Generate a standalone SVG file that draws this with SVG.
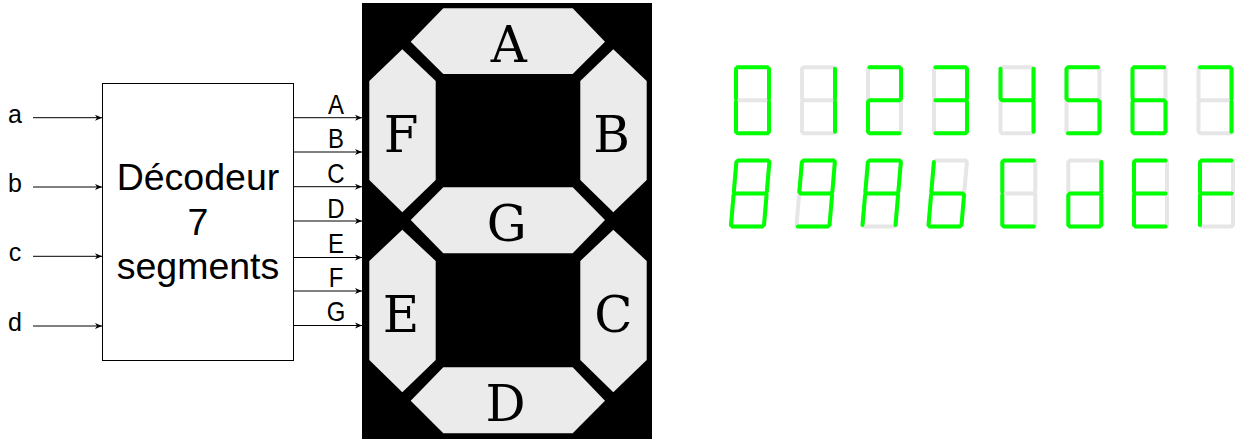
<svg xmlns="http://www.w3.org/2000/svg" width="1237" height="439" viewBox="0 0 1237 439">
<style>
.sans{font-family:"Liberation Sans",Arial,sans-serif;fill:#000}
.in{font-size:25px;text-anchor:middle}
.dec{font-size:37.5px;text-anchor:middle}
.out{font-size:27.5px;text-anchor:middle}
.seg{fill:#ebebeb}
.cap{font-family:"DejaVu Serif",serif;font-size:50px;text-anchor:middle;fill:#000}
.wire{stroke:#000;stroke-width:1;fill:none;marker-end:url(#arrow)}
.digit{fill:none;stroke:#e6e6e6;stroke-width:4;stroke-linecap:round}
.on{stroke:#00ff00}
</style>
<defs>
<marker id="arrow" markerUnits="userSpaceOnUse" markerWidth="8" markerHeight="8" refX="7" refY="4" orient="auto"><path d="M0 1L7 4L0 7L2 4z" fill="#000"/></marker>
<line id="a" x1="1.5" y1="0" x2="31.5" y2="0"/>
<line id="b" x1="33" y1="1.5" x2="33" y2="31.5"/>
<line id="c" x1="33" y1="34.5" x2="33" y2="64.5"/>
<line id="d" x1="1.5" y1="66" x2="31.5" y2="66"/>
<line id="e" x1="0" y1="34.5" x2="0" y2="64.5"/>
<line id="f" x1="0" y1="1.5" x2="0" y2="31.5"/>
<line id="g" x1="1.5" y1="33" x2="31.5" y2="33"/>
<g id="off"><use href="#a"/><use href="#b"/><use href="#c"/><use href="#d"/><use href="#e"/><use href="#f"/><use href="#g"/></g>
</defs>

<g id="connectors">
<line class="wire" x1="33" y1="117.7" x2="102" y2="117.7"/>
<line class="wire" x1="33" y1="187" x2="102" y2="187"/>
<line class="wire" x1="33" y1="256.3" x2="102" y2="256.3"/>
<line class="wire" x1="33" y1="326" x2="102" y2="326"/>
<line class="wire" x1="293.5" y1="117.7" x2="362" y2="117.7"/>
<line class="wire" x1="293.5" y1="152" x2="362" y2="152"/>
<line class="wire" x1="293.5" y1="186.7" x2="362" y2="186.7"/>
<line class="wire" x1="293.5" y1="221" x2="362" y2="221"/>
<line class="wire" x1="293.5" y1="257.5" x2="362" y2="257.5"/>
<line class="wire" x1="293.5" y1="291" x2="362" y2="291"/>
<line class="wire" x1="293.5" y1="325.5" x2="362" y2="325.5"/>
</g>

<g id="inputs" class="sans">
<text class="in" x="15" y="122.5">a</text>
<text class="in" x="15" y="191.5">b</text>
<text class="in" x="15" y="261">c</text>
<text class="in" x="15" y="330.5">d</text>
</g>

<g id="decoder">
<rect x="102.5" y="83.5" width="191" height="277" fill="#fff" stroke="#000" stroke-width="1"/>
<g class="sans">
<text class="dec" x="198" y="190">Décodeur</text>
<text class="dec" x="198" y="235">7</text>
<text class="dec" x="198" y="279">segments</text>
</g>
</g>

<g id="outputs" class="sans">
<text class="out" transform="translate(336,114.3) scale(.87,1)">A</text>
<text class="out" transform="translate(336,148.3) scale(.87,1)">B</text>
<text class="out" transform="translate(336,182.7) scale(.87,1)">C</text>
<text class="out" transform="translate(336,217.7) scale(.87,1)">D</text>
<text class="out" transform="translate(336,252.7) scale(.87,1)">E</text>
<text class="out" transform="translate(336,286.7) scale(.87,1)">F</text>
<text class="out" transform="translate(336,320.7) scale(.87,1)">G</text>
</g>

<g id="display">
<rect x="362" y="3" width="290" height="436" fill="#000"/>
<g id="seg-A"><polygon class="seg" points="443.3,8.3 572.7,8.3 605,41.7 572.7,74 443.3,74 410.7,41.7"/><text class="cap" x="508.7" y="62.3">A</text></g>
<g id="seg-B"><polygon class="seg" points="613.3,49.3 646.7,81 646.7,180 613.3,212.3 580.3,180 580.3,81"/><text class="cap" x="611.7" y="151.7">B</text></g>
<g id="seg-C"><polygon class="seg" points="613.3,229.7 646.7,261 646.7,360 613.3,392.3 580.3,360 580.3,261"/><text class="cap" x="613.5" y="331.7">C</text></g>
<g id="seg-D"><polygon class="seg" points="443.3,367.3 572.7,367.3 605,400.7 572.7,433.3 443.3,433.3 410.7,400.7"/><text class="cap" x="505.5" y="420.7">D</text></g>
<g id="seg-E"><polygon class="seg" points="402.3,229.7 435.7,261 435.7,360 402.3,392.3 369.3,360 369.3,261"/><text class="cap" x="401" y="331.7">E</text></g>
<g id="seg-F"><polygon class="seg" points="402.3,49.3 435.7,81 435.7,180 402.3,212.3 369.3,180 369.3,81"/><text class="cap" x="401" y="151.7">F</text></g>
<g id="seg-G"><polygon class="seg" points="443.3,187.3 572.7,187.3 605,220 572.7,253.3 443.3,253.3 410.7,220"/><text class="cap" x="506.7" y="241">G</text></g>
</g>

<g id="digits">
<g id="d0" class="digit" transform="translate(736,67.3)"><use href="#off"/><g class="on"><use href="#a"/><use href="#b"/><use href="#c"/><use href="#d"/><use href="#e"/><use href="#f"/></g></g>
<g id="d1" class="digit" transform="translate(802,67.3)"><use href="#off"/><g class="on"><use href="#b"/><use href="#c"/></g></g>
<g id="d2" class="digit" transform="translate(868,67.3)"><use href="#off"/><g class="on"><use href="#a"/><use href="#b"/><use href="#g"/><use href="#e"/><use href="#d"/></g></g>
<g id="d3" class="digit" transform="translate(934,67.3)"><use href="#off"/><g class="on"><use href="#a"/><use href="#b"/><use href="#g"/><use href="#c"/><use href="#d"/></g></g>
<g id="d4" class="digit" transform="translate(1000.5,67.3)"><use href="#off"/><g class="on"><use href="#f"/><use href="#g"/><use href="#b"/><use href="#c"/></g></g>
<g id="d5" class="digit" transform="translate(1066.5,67.3)"><use href="#off"/><g class="on"><use href="#a"/><use href="#f"/><use href="#g"/><use href="#c"/><use href="#d"/></g></g>
<g id="d6" class="digit" transform="translate(1132.5,67.3)"><use href="#off"/><g class="on"><use href="#a"/><use href="#f"/><use href="#g"/><use href="#c"/><use href="#d"/><use href="#e"/></g></g>
<g id="d7" class="digit" transform="translate(1198.5,67.3)"><use href="#off"/><g class="on"><use href="#a"/><use href="#b"/><use href="#c"/></g></g>
<g id="d8" class="digit" transform="translate(736.5,160.5) skewX(-4.85)"><use href="#off"/><g class="on"><use href="#a"/><use href="#b"/><use href="#c"/><use href="#d"/><use href="#e"/><use href="#f"/><use href="#g"/></g></g>
<g id="d9" class="digit" transform="translate(802,160.5) skewX(-4.85)"><use href="#off"/><g class="on"><use href="#a"/><use href="#b"/><use href="#c"/><use href="#d"/><use href="#f"/><use href="#g"/></g></g>
<g id="dA" class="digit" transform="translate(868,160.5) skewX(-4.85)"><use href="#off"/><g class="on"><use href="#a"/><use href="#b"/><use href="#c"/><use href="#e"/><use href="#f"/><use href="#g"/></g></g>
<g id="db" class="digit" transform="translate(934,160.5) skewX(-4.85)"><use href="#off"/><g class="on"><use href="#c"/><use href="#d"/><use href="#e"/><use href="#f"/><use href="#g"/></g></g>
<g id="dC" class="digit" transform="translate(1002.3,160.5)"><use href="#off"/><g class="on"><use href="#a"/><use href="#d"/><use href="#e"/><use href="#f"/></g></g>
<g id="dd" class="digit" transform="translate(1068.3,160.5)"><use href="#off"/><g class="on"><use href="#b"/><use href="#c"/><use href="#d"/><use href="#e"/><use href="#g"/></g></g>
<g id="dE" class="digit" transform="translate(1134,160.5)"><use href="#off"/><g class="on"><use href="#a"/><use href="#d"/><use href="#e"/><use href="#f"/><use href="#g"/></g></g>
<g id="dF" class="digit" transform="translate(1200,160.5)"><use href="#off"/><g class="on"><use href="#a"/><use href="#e"/><use href="#f"/><use href="#g"/></g></g>
</g>
</svg>
